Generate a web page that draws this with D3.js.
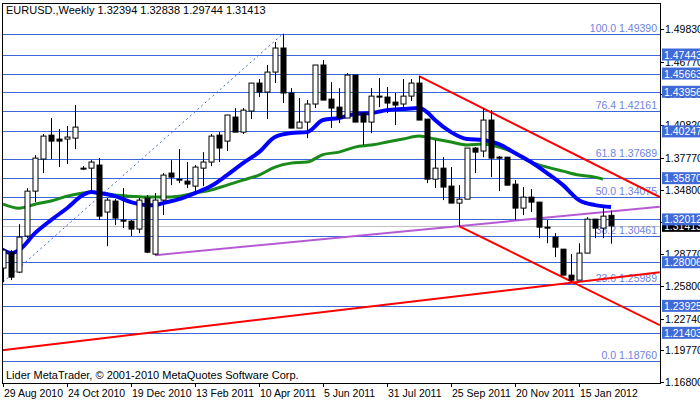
<!DOCTYPE html>
<html><head><meta charset="utf-8">
<script src="https://cdn.jsdelivr.net/npm/d3@7"></script>
<style>body{margin:0;background:#fff}svg{display:block;font-family:"Liberation Sans",Arial,sans-serif}</style>
</head><body>
<div id="chart"></div>
<script>
// weekly candles, open/high/low/close
var candles = [
 [1.2746,1.2933,1.2614,1.2914],[1.2895,1.2914,1.2633,1.2661],[1.2708,1.3157,1.2699,1.3036],[1.3045,1.3494,1.3026,1.3466],
 [1.3466,1.3803,1.3363,1.3775],[1.3766,1.4000,1.3635,1.3981],[1.3990,1.4150,1.3766,1.3934],[1.3953,1.4047,1.3691,1.3934],
 [1.3953,1.4075,1.3719,1.3972],[1.3962,1.4271,1.3859,1.4065],[1.3681,1.3700,1.3663,1.3681],[1.3681,1.3756,1.3457,1.3738],
 [1.3710,1.3775,1.3195,1.3232],[1.3270,1.3401,1.2951,1.3382],[1.3373,1.3391,1.3148,1.3214],[1.3195,1.3494,1.3120,1.3185],
 [1.3185,1.3195,1.3045,1.3111],[1.3111,1.3401,1.3073,1.3382],[1.3401,1.3429,1.2886,1.2895],[1.2877,1.3448,1.2867,1.3382],
 [1.3382,1.3635,1.3242,1.3616],[1.3635,1.3756,1.3522,1.3597],[1.3578,1.3859,1.3541,1.3569],[1.3560,1.3738,1.3494,1.3532],
 [1.3513,1.3710,1.3457,1.3691],[1.3681,1.3831,1.3513,1.3738],[1.3738,1.4000,1.3700,1.3981],[1.3990,1.4018,1.3738,1.3869],
 [1.3934,1.4178,1.3841,1.4178],[1.4159,1.4243,1.4018,1.4018],[1.4018,1.4243,1.4000,1.4224],[1.4215,1.4477,1.4140,1.4477],
 [1.4477,1.4515,1.4346,1.4393],[1.4393,1.4646,1.4140,1.4580],[1.4580,1.4861,1.4477,1.4805],[1.4805,1.4939,1.4290,1.4384],
 [1.4384,1.4430,1.4056,1.4056],[1.4056,1.4337,1.4056,1.4112],[1.4112,1.4318,1.3962,1.4281],[1.4281,1.4646,1.4243,1.4646],
 [1.4646,1.4692,1.4318,1.4318],[1.4327,1.4486,1.4056,1.4243],[1.4252,1.4430,1.4103,1.4150],[1.4150,1.4571,1.4150,1.4552],
 [1.4552,1.4552,1.4112,1.4112],[1.4196,1.4196,1.3897,1.4112],[1.4112,1.4430,1.4009,1.4355],[1.4355,1.4524,1.4252,1.4346],
 [1.4346,1.4440,1.4196,1.4290],[1.4299,1.4384,1.4084,1.4271],[1.4281,1.4515,1.4224,1.4355],[1.4355,1.4515,1.4309,1.4477],
 [1.4477,1.4543,1.4131,1.4131],[1.4140,1.4140,1.3541,1.3578],[1.3578,1.3944,1.3494,1.3681],[1.3681,1.3784,1.3382,1.3504],
 [1.3513,1.3691,1.3354,1.3354],[1.3354,1.3522,1.3139,1.3391],[1.3391,1.3869,1.3391,1.3869],[1.3869,1.3878,1.3635,1.3831],
 [1.3841,1.4243,1.3784,1.4131],[1.4131,1.4224,1.3597,1.3775],[1.3784,1.3794,1.3466,1.3775],[1.3784,1.3784,1.3522,1.3522],
 [1.3531,1.3569,1.3195,1.3307],[1.3307,1.3504,1.3242,1.3410],[1.3410,1.3485,1.3270,1.3363],[1.3363,1.3363,1.3026,1.3129],
 [1.3129,1.3195,1.2979,1.3120],[1.3036,1.3073,1.2849,1.2942],[1.2923,1.2923,1.2680,1.2680],[1.2680,1.2877,1.2614,1.2633],
 [1.2633,1.2979,1.2633,1.2886],[1.2886,1.3223,1.2886,1.3204],[1.3204,1.3204,1.3026,1.3120],[1.3120,1.3307,1.3026,1.3232],
 [1.32394,1.32838,1.29744,1.31413]
];
var dateLabels = ["29 Aug 2010","24 Oct 2010","19 Dec 2010","13 Feb 2011","10 Apr 2011","5 Jun 2011","31 Jul 2011","25 Sep 2011","20 Nov 2011","15 Jan 2012"];
var dateIdx = [0,8,16,24,32,40,48,56,64,72];
var priceTicks = [1.49830,1.46770,1.43790,1.40820,1.37770,1.34800,1.31740,1.28770,1.25800,1.22740,1.19770,1.16800];
// moving averages: [bar, price]
var maFast = [[0,1.2914],[1,1.2886],[2,1.2914],[4,1.3073],[6,1.3195],[8,1.3306],[10,1.3429],[11,1.3457],[12,1.3448],[14,1.3419],[16,1.3363],[18,1.3335],[19,1.3335],[20,1.3354],[22,1.3391],[24,1.3448],[26,1.3513],[28,1.3616],[30,1.3728],[32,1.3831],[34,1.3972],[36,1.4009],[38,1.4018],[40,1.4131],[42,1.4150],[44,1.4187],[46,1.4196],[48,1.4224],[50,1.4234],[52,1.4243],[53,1.4206],[54,1.4131],[56,1.4018],[58,1.3953],[60,1.3944],[62,1.3906],[64,1.3822],[66,1.3738],[68,1.3635],[70,1.3522],[72,1.3382],[74,1.3335],[76,1.3317]];
var maSlow = [[0,1.3344],[2,1.3306],[4,1.3344],[6,1.3373],[8,1.3419],[10,1.3448],[11,1.3457],[14,1.3429],[16,1.3419],[18,1.3410],[20,1.3410],[22,1.3419],[24,1.3448],[26,1.3476],[28,1.3522],[30,1.3569],[32,1.3616],[34,1.3691],[36,1.3728],[38,1.3738],[40,1.3808],[42,1.3831],[44,1.3878],[46,1.3897],[48,1.3925],[50,1.3953],[52,1.3981],[54,1.3953],[56,1.3925],[58,1.3897],[60,1.3906],[62,1.3878],[64,1.3822],[66,1.3738],[68,1.3691],[70,1.3653],[72,1.3616],[74,1.3597],[75,1.3578]];
var fiboLevels = [[100.0,1.49390],[76.4,1.42161],[61.8,1.37689],[50.0,1.34075],[38.2,1.30461],[23.6,1.25989],[0.0,1.18760]];
var boxLevels = [1.47443,1.45663,1.43956,1.40247,1.35870,1.32012,1.28006,1.23925,1.21403];
var lastPrice = 1.31413;
// trend lines as two anchor points [bar, price]
var purpleLine = [[19,1.2867],[82.1,1.3319]];
var redLines = [[[52,1.4543],[82.1,1.3410]],[[57,1.3139],[82.1,1.2212]],[[-0.1,1.1978],[82.1,1.2708]]];
var fiboTrend = [[0,1.2614],[35,1.4939]];

var W = 700, H = 402, L = 2, R = 660, T = 3, B = 383;
var FS = 10.5;
var svg = d3.select("#chart").append("svg").attr("width", W).attr("height", H);
var x = d3.scaleLinear().domain([0, 76]).range([3, 611]);
var y = d3.scaleLinear().domain([1.4983, 1.168]).range([29, 382]);

svg.append("defs").append("clipPath").attr("id", "clip")
  .append("rect").attr("x", L).attr("y", T).attr("width", R - L).attr("height", B - T);
var g = svg.append("g").attr("clip-path", "url(#clip)");

var lvlColor = "#3a66d8";
var allLevels = fiboLevels.map(function(d){return d[1];}).concat(boxLevels);
g.selectAll(".lvl").data(allLevels).enter().append("line")
  .attr("x1", L).attr("x2", R).attr("y1", function(d){return Math.round(y(d))+0.5;}).attr("y2", function(d){return Math.round(y(d))+0.5;})
  .attr("stroke", lvlColor).attr("stroke-width", 1);
g.append("line").attr("x1", L).attr("x2", R).attr("y1", Math.round(y(lastPrice))+0.5).attr("y2", Math.round(y(lastPrice))+0.5)
  .attr("stroke", "#c0c0c0");

g.selectAll(".fl").data(fiboLevels).enter().append("text")
  .attr("x", 657).attr("y", function(d){return y(d[1]) - 2;}).attr("text-anchor", "end")
  .attr("font-size", FS).attr("fill", "#6f82e0")
  .text(function(d){return d[0].toFixed(1) + " " + d[1].toFixed(5);});

function seg(p) { return [[x(p[0][0]), y(p[0][1])], [x(p[1][0]), y(p[1][1])]]; }
var line = d3.line();
g.append("path").attr("d", line(seg(fiboTrend))).attr("stroke", "#3a66d8").attr("stroke-dasharray", "2,3").attr("fill", "none");
g.append("path").attr("d", line(seg(purpleLine))).attr("stroke", "#b45ad4").attr("stroke-width", 2).attr("fill", "none");
redLines.forEach(function(p){
  g.append("path").attr("d", line(seg(p))).attr("stroke", "#ff0000").attr("stroke-width", 2).attr("fill", "none");
});

var maLine = d3.line().x(function(d){return x(d[0]);}).y(function(d){return y(d[1]);}).curve(d3.curveMonotoneX);
g.append("path").attr("d", maLine(maSlow)).attr("stroke", "#1a8a1a").attr("stroke-width", 3).attr("fill", "none");
g.append("path").attr("d", maLine(maFast)).attr("stroke", "#0000ff").attr("stroke-width", 4).attr("fill", "none");

var c = g.selectAll(".c").data(candles).enter().append("g");
c.append("line").attr("x1", function(d,i){return x(i)+0.5;}).attr("x2", function(d,i){return x(i)+0.5;})
  .attr("y1", function(d){return y(d[1]);}).attr("y2", function(d){return y(d[2]);}).attr("stroke", "#000");
c.append("rect").attr("x", function(d,i){return x(i)-2;}).attr("width", 5)
  .attr("y", function(d){return y(Math.max(d[0], d[3]));})
  .attr("height", function(d){return Math.max(1, Math.abs(y(d[0]) - y(d[3])));})
  .attr("fill", function(d){return d[3] >= d[0] ? "#fff" : "#000";})
  .attr("stroke", "#000").attr("stroke-width", 1);

// frame
svg.append("rect").attr("x", L + 0.5).attr("y", T + 0.5).attr("width", R - L).attr("height", B - T)
  .attr("fill", "none").attr("stroke", "#000");

// right axis
var ra = svg.append("g");
ra.selectAll("line").data(priceTicks).enter().append("line")
  .attr("x1", R).attr("x2", R + 4).attr("y1", function(d){return Math.round(y(d))+0.5;}).attr("y2", function(d){return Math.round(y(d))+0.5;}).attr("stroke", "#000");
ra.selectAll("text").data(priceTicks).enter().append("text")
  .attr("x", 665).attr("y", function(d){return y(d) + 4;}).attr("font-size", FS).attr("fill", "#000")
  .text(function(d){return d.toFixed(5);});

svg.append("rect").attr("x", 662).attr("y", y(lastPrice) - 6).attr("width", 38).attr("height", 12).attr("fill", "#000");
svg.append("text").attr("x", 664).attr("y", y(lastPrice) + 4).attr("font-size", FS).attr("fill", "#fff").text(lastPrice.toFixed(5));
var bx = svg.selectAll(".bx").data(boxLevels).enter().append("g");
bx.append("rect").attr("x", 662).attr("y", function(d){return y(d) - 6;}).attr("width", 38).attr("height", 12).attr("fill", "#3f6ad8");
bx.append("text").attr("x", 664).attr("y", function(d){return y(d) + 4;}).attr("font-size", FS).attr("fill", "#fff")
  .text(function(d){return d.toFixed(5);});

// bottom axis
var ba = svg.append("g");
ba.selectAll("line").data(dateIdx).enter().append("line")
  .attr("x1", function(d){return x(d)+0.5;}).attr("x2", function(d){return x(d)+0.5;}).attr("y1", B).attr("y2", B + 4).attr("stroke", "#000");
ba.selectAll("text").data(dateIdx).enter().append("text")
  .attr("x", function(d){return x(d) + 1;}).attr("y", 397).attr("font-size", FS).attr("fill", "#000")
  .text(function(d,i){return dateLabels[i];});

svg.append("text").attr("x", 6).attr("y", 14).attr("font-size", FS + 0.5).text("EURUSD.,Weekly  1.32394 1.32838 1.29744 1.31413");
svg.append("text").attr("x", 6).attr("y", 379).attr("font-size", FS + 0.5).text("Lider MetaTrader, © 2001-2010 MetaQuotes Software Corp.");
</script>
</body></html>
